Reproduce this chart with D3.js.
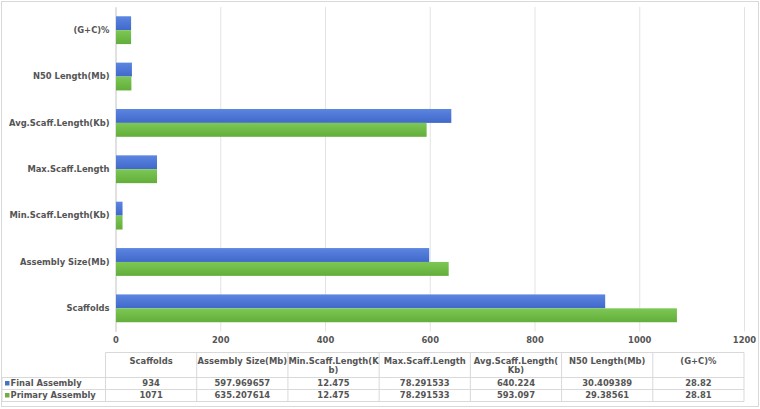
<!DOCTYPE html>
<html>
<head>
<meta charset="utf-8">
<script src="https://cdn.jsdelivr.net/npm/d3@7"></script>
<style>
  body { margin: 0; background: #fff; }
  svg { display: block; font-family: "DejaVu Sans", sans-serif; font-weight: bold; }
</style>
</head>
<body>
<svg id="chart"></svg>
<script>
// categories as listed in the data table (left to right), bars drawn bottom-up
const categories = ['Scaffolds', 'Assembly Size(Mb)', 'Min.Scaff.Length(Kb)', 'Max.Scaff.Length',
    'Avg.Scaff.Length(Kb)', 'N50 Length(Mb)', '(G+C)%'];
const seriesNames = ['Final Assembly', 'Primary Assembly'];
const finalAssembly = [934, 597.969657, 12.475, 78.291533, 640.224, 30.409389, 28.82];
const primaryAssembly = [1071, 635.207614, 12.475, 78.291533, 593.097, 29.38561, 28.81];
const finalLabels = ['934', '597.969657', '12.475', '78.291533', '640.224', '30.409389', '28.82'];
const primaryLabels = ['1071', '635.207614', '12.475', '78.291533', '593.097', '29.38561', '28.81'];
const xTicks = [0, 200, 400, 600, 800, 1000, 1200];

const width = 760;
const height = 409;
const margin = { top: 7, right: 16, bottom: 77, left: 115.5 };
const textColor = '#555555';
const lineColor = '#d9d9d9';
const fontSize = 8.4;
const fontFamily = '"DejaVu Sans", sans-serif';

const svg = d3.select('#chart').attr('width', width).attr('height', height);

// outer chart border
svg.append('rect')
    .attr('x', 1.5).attr('y', 1.5)
    .attr('width', width - 3).attr('height', height - 4)
    .attr('fill', 'none').attr('stroke', lineColor);

const defs = svg.append('defs');
function gradient(id, top, bottom) {
    const g = defs.append('linearGradient').attr('id', id)
        .attr('x1', 0).attr('y1', 0).attr('x2', 0).attr('y2', 1);
    g.append('stop').attr('offset', '0%').attr('stop-color', top);
    g.append('stop').attr('offset', '100%').attr('stop-color', bottom);
}
gradient('gBlue', '#5d86e2', '#3f68c9');
gradient('gGreen', '#7dc855', '#63ad3b');
const fills = ['url(#gBlue)', 'url(#gGreen)'];
const swatch = ['#4472c4', '#70ad47'];

const xScale = d3.scaleLinear()
    .domain([0, 1200])
    .range([margin.left, width - margin.right]);

const plotBottom = height - margin.bottom - 0.5;

const yScale = d3.scaleBand()
    .domain(categories.slice().reverse())
    .range([margin.top, plotBottom])
    .paddingInner(0.4)
    .paddingOuter(0.2);

const ySub = d3.scaleBand()
    .domain(seriesNames)
    .range([0, yScale.bandwidth()]);

function styleText(g) {
    g.attr('font-family', fontFamily).attr('font-size', fontSize);
    g.selectAll('text').attr('fill', textColor);
}

// grid
const xGrid = d3.axisBottom(xScale)
    .tickValues(xTicks)
    .tickSize(-(plotBottom - margin.top))
    .tickFormat('');
svg.append('g')
    .attr('transform', `translate(0, ${plotBottom})`)
    .call(xGrid)
    .call(g => g.select('.domain').remove())
    .call(g => g.selectAll('line').attr('stroke', '#e3e3e3'));

// x axis labels
svg.append('g')
    .attr('transform', `translate(0, ${plotBottom + 2})`)
    .call(d3.axisBottom(xScale).tickValues(xTicks).tickSize(0).tickPadding(4).tickFormat(d3.format('d')))
    .call(g => g.select('.domain').remove())
    .call(styleText);

// category axis
svg.append('g')
    .attr('transform', `translate(${margin.left}, 0)`)
    .call(d3.axisLeft(yScale).tickSize(0).tickPadding(6))
    .call(g => g.select('.domain').attr('stroke', '#d0d0d0'))
    .call(styleText);

// bars
const rows = categories.map((c, i) => ({ cat: c, values: [finalAssembly[i], primaryAssembly[i]] }));
const groups = svg.append('g').selectAll('g')
    .data(rows)
    .join('g')
    .attr('transform', d => `translate(0, ${yScale(d.cat)})`);

groups.selectAll('rect')
    .data(d => d.values.map((v, i) => ({ name: seriesNames[i], v, i })))
    .join('rect')
    .attr('x', xScale(0) + 0.5)
    .attr('y', d => ySub(d.name))
    .attr('width', d => xScale(d.v) - xScale(0))
    .attr('height', ySub.bandwidth())
    .attr('fill', d => fills[d.i]);

// data table
const tableLeft = 105.5;
const tableRight = xScale(1200);
const colW = (tableRight - tableLeft) / categories.length;
const headTop = 352.5;
const headBottom = 377.5;
const rowH = 12;
const tbl = svg.append('g').attr('font-size', fontSize).attr('fill', textColor);

for (let i = 0; i <= categories.length; i++) {
    const x = tableLeft + i * colW;
    tbl.append('line')
        .attr('x1', x).attr('x2', x)
        .attr('y1', headTop).attr('y2', headBottom + 2 * rowH)
        .attr('stroke', lineColor);
}
tbl.append('line')
    .attr('x1', tableLeft).attr('x2', tableRight)
    .attr('y1', headTop).attr('y2', headTop)
    .attr('stroke', lineColor);
for (let r = 0; r <= 2; r++) {
    const y = headBottom + r * rowH;
    tbl.append('line')
        .attr('x1', 2).attr('x2', tableRight)
        .attr('y1', y).attr('y2', y)
        .attr('stroke', lineColor);
}
tbl.append('line')
    .attr('x1', 2).attr('x2', 2)
    .attr('y1', headBottom).attr('y2', headBottom + 2 * rowH)
    .attr('stroke', lineColor);

// header text, wrapped by character when wider than the column
function wrapLines(text, maxW, measure) {
    const lines = [];
    let cur = '';
    for (const ch of text) {
        if (measure(cur + ch) > maxW && cur.length) {
            lines.push(cur);
            cur = ch;
        } else {
            cur += ch;
        }
    }
    lines.push(cur);
    return lines;
}
const probe = tbl.append('text');
const measure = s => { probe.text(s); return probe.node().getComputedTextLength(); };
// wrap limit sits between the widths of the two similar long labels
const limit = (measure('Min.Scaff.Length(K') + measure('Avg.Scaff.Length(K')) / 2;

categories.forEach((c, i) => {
    const lines = wrapLines(c, Math.min(limit, colW), measure);
    const cx = tableLeft + (i + 0.5) * colW;
    const t = tbl.append('text')
        .attr('x', cx)
        .attr('y', 363.5)
        .attr('text-anchor', 'middle');
    lines.forEach((l, k) => {
        t.append('tspan').attr('x', cx).attr('dy', k === 0 ? 0 : 9).text(l);
    });
});
probe.remove();

const tableRows = [finalLabels, primaryLabels];
tableRows.forEach((vals, r) => {
    const yMid = headBottom + r * rowH + rowH / 2;
    tbl.append('rect')
        .attr('x', 5).attr('y', yMid - 2.5)
        .attr('width', 4.5).attr('height', 4.5)
        .attr('fill', swatch[r]);
    tbl.append('text')
        .attr('x', 10.5).attr('y', yMid)
        .attr('dy', '0.35em')
        .text(seriesNames[r]);
    vals.forEach((v, i) => {
        tbl.append('text')
            .attr('x', tableLeft + (i + 0.5) * colW)
            .attr('y', yMid)
            .attr('dy', '0.35em')
            .attr('text-anchor', 'middle')
            .text(v);
    });
});
</script>
</body>
</html>
